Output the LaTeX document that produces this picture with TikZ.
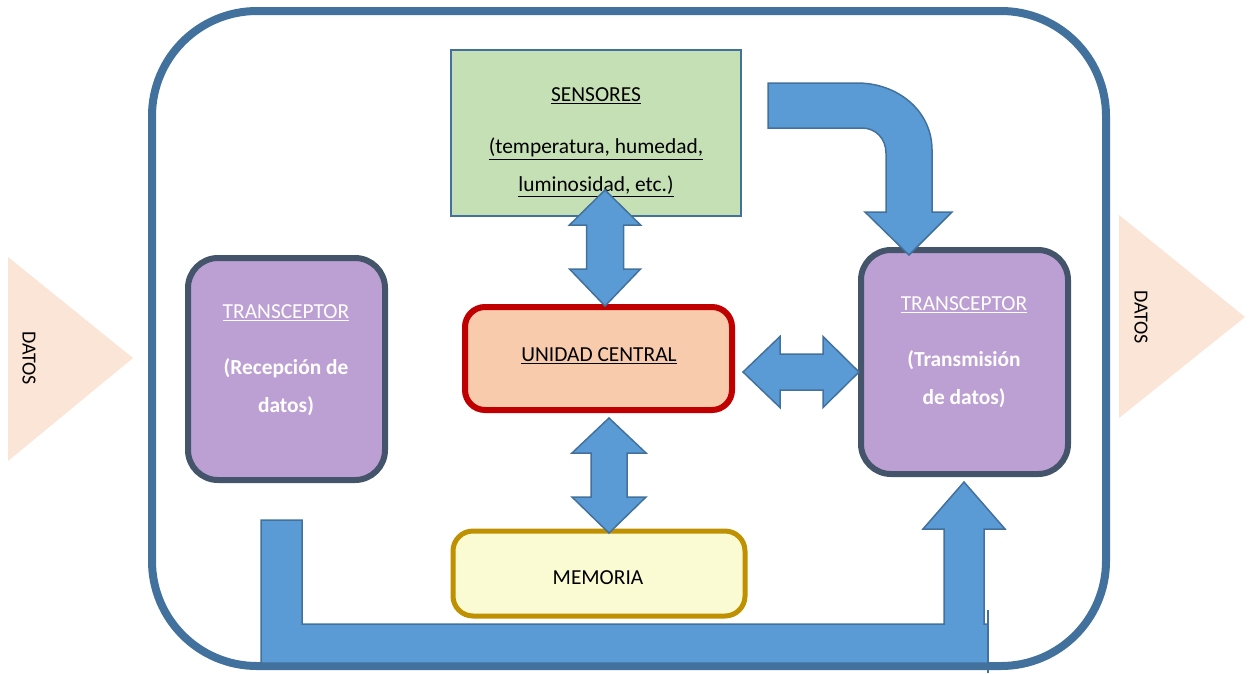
\documentclass[tikz,border=0pt]{standalone}
\usepackage{fontspec}
\setmainfont{Carlito}
\usepackage{tikz}
\definecolor{Frame}{RGB}{65,113,156}
\definecolor{ArrowFill}{RGB}{91,155,213}
\definecolor{SensorFill}{RGB}{197,224,180}
\definecolor{PurpleFill}{RGB}{189,160,211}
\definecolor{Slate}{RGB}{68,84,106}
\definecolor{CpuFill}{RGB}{248,203,173}
\definecolor{CpuLine}{RGB}{192,0,0}
\definecolor{MemFill}{RGB}{250,251,210}
\definecolor{MemLine}{RGB}{191,144,0}
\definecolor{Peach}{RGB}{251,229,214}

\begin{document}
\begin{tikzpicture}[x=1pt, y=-1pt,
    box/.style={rectangle, inner sep=0pt, outer sep=0pt},
    txt/.style={align=center, inner sep=0pt, font=\fontsize{21.4}{38}\selectfont},
    blockarr/.style={fill=ArrowFill, draw=Frame, line width=1.5pt},
]
\useasboundingbox (0,0) rectangle (1249,673);

% outer frame
\draw[Frame, line width=8pt, rounded corners=105pt] (152,11) rectangle (1106,666);

% data in / out
\fill[Peach] (8,257) -- (133,358) -- (8,461) -- cycle;
\fill[Peach] (1119,215) -- (1245,317) -- (1119,418) -- cycle;
\node[txt, rotate=-90, font=\fontsize{20}{24}\selectfont] (datosIn) at (29,358) {DATOS};
\node[txt, rotate=-90, font=\fontsize{20}{24}\selectfont] (datosOut) at (1141,317) {DATOS};

% blocks
\node[box, draw=Frame, line width=2pt, fill=SensorFill, minimum width=290pt, minimum height=166pt]
      (sens) at (596,133) {};
\node[box, draw=Slate, line width=6pt, fill=PurpleFill, rounded corners=30pt,
      minimum width=197pt, minimum height=222pt] (rx) at (286.5,369) {};
\node[box, draw=Slate, line width=6pt, fill=PurpleFill, rounded corners=30pt,
      minimum width=207pt, minimum height=224pt] (tx) at (964.5,362) {};
\node[box, draw=CpuLine, line width=6pt, fill=CpuFill, rounded corners=20pt,
      minimum width=267pt, minimum height=103pt] (cpu) at (598.5,358.5) {};
\node[box, draw=MemLine, line width=5pt, fill=MemFill, rounded corners=20pt,
      minimum width=292pt, minimum height=85pt] (mem) at (599,573.5) {};

\node[txt] (sensText) at (596,142.5) {\underline{SENSORES}\\[14pt]
      \underline{(temperatura, humedad,}\\ \underline{luminosidad, etc.)}};
\node[txt, white] (rxText) at (286,360) {\underline{TRANSCEPTOR}\\[18pt]
      \textbf{(Recepción de}\\ \textbf{datos)}};
\node[txt, white] (txText) at (964,352.5) {\underline{TRANSCEPTOR}\\[18pt]
      \textbf{(Transmisión}\\ \textbf{de datos)}};
\node[txt] (cpuText) at (599,356) {\underline{UNIDAD CENTRAL}};
\node[txt] (memText) at (598,578) {MEMORIA};

% block arrows
\draw[blockarr] (605,190) -- (640.5,225) -- (623.5,225) -- (623.5,269) -- (640.5,269)
      -- (605,306) -- (569.5,269) -- (586.5,269) -- (586.5,225) -- (569.5,225) -- cycle;
\draw[blockarr] (609,418) -- (646,453) -- (627,453) -- (627,497) -- (646,497)
      -- (609,533) -- (572,497) -- (591,497) -- (591,453) -- (572,453) -- cycle;
\draw[blockarr] (743,372) -- (780,336.5) -- (780,354) -- (823,354) -- (823,336.5)
      -- (859,372) -- (823,407.5) -- (823,390) -- (780,390) -- (780,407.5) -- cycle;
\draw[blockarr] (768,83) -- (857,83) .. controls (898,83) and (932,111) .. (932,150)
      -- (932,212) -- (952,212) -- (909,255) -- (865,212) -- (886,212) -- (886,153)
      .. controls (886,139) and (876,128) .. (862,128) -- (768,128) -- cycle;
\draw[blockarr] (261,520) -- (302,520) -- (302,624) -- (944,624) -- (944,529) -- (923,529)
      -- (964,482) -- (1005,529) -- (984,529) -- (984,624) -- (988,624) -- (988,663)
      -- (261,663) -- cycle;
\draw[Frame, line width=1.5pt] (988,610) -- (988,673);
\end{tikzpicture}
\end{document}
